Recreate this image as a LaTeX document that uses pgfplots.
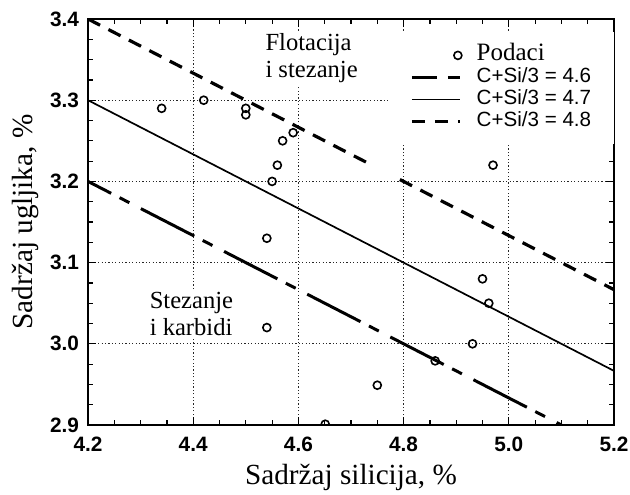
\documentclass[border=0pt]{standalone}
\usepackage{fontspec}
\setmainfont{Liberation Serif}
\setsansfont{Liberation Sans}
\usepackage{pgfplots}
\pgfplotsset{compat=1.18}
\pgfplotsset{
  podaci legend/.style={legend image code/.code={\path[draw=none] (0pt,0pt) -- (24pt,0pt); \draw[black, solid, line width=0.8pt] (23pt,0pt) circle[radius=2pt];}},
  longdash legend/.style={legend image code/.code={\path[draw=none] (0pt,0pt) -- (24pt,0pt); \draw[##1, dash pattern=on 12.5pt off 5.5pt on 6pt off 6pt, dash phase=0pt] (0pt,0pt) -- (24pt,0pt);}},
}
\begin{document}
\begin{tikzpicture}
\begin{axis}[
  scale only axis, width=263pt, height=203pt,
  xmin=4.2, xmax=5.2, ymin=2.9, ymax=3.4,
  xtick={4.2,4.4,4.6,4.8,5.0,5.2},
  xticklabels={4.2,4.4,4.6,4.8,5.0,5.2},
  ytick={2.9,3.0,3.1,3.2,3.3,3.4},
  yticklabels={2.9,3.0,3.1,3.2,3.3,3.4},
  minor x tick num=3, minor y tick num=3,
  tick align=inside,
  major tick length=4pt, minor tick length=2.5pt,
  every tick/.style={black, line width=0.6pt},
  axis line style={line width=1pt},
  grid=major,
  major grid style={black!85, line width=0.5pt, dash pattern=on 0.6pt off 1.1pt},
  ticklabel style={font=\sffamily\bfseries\fontsize{10.4}{12}\selectfont},
  xticklabel style={yshift=-2.5pt},
  yticklabel style={xshift=-1pt},
  xlabel={Sadržaj silicija, \%},
  ylabel={Sadržaj ugljika, \%},
  xlabel style={font=\fontsize{14.6}{16}\selectfont, at={(axis description cs:0.5,0)}, anchor=base, yshift=-29.5pt},
  ylabel style={font=\fontsize{14.6}{16}\selectfont, at={(axis description cs:-0.118,0.5)}, anchor=center},
  clip marker paths=true,
  legend style={font=\sffamily\fontsize{10.3}{12}\selectfont, draw=none, fill=white,
    at={(rel axis cs:0.572,1)}, anchor=north west, yshift=-6.5pt,
    inner xsep=10.5pt, inner ysep=6pt, column sep=6pt,
    nodes={inner sep=1pt, text height=7pt, text depth=2pt}},
  legend cell align=left,
  legend image code/.code={\path[draw=none] (0pt,0pt) -- (24pt,0pt); \draw[#1] (0pt,0pt) -- (24pt,0pt);},
]
% data points
\addplot[only marks, mark=o, mark size=2pt, mark options={line width=0.8pt, black}, podaci legend]
  coordinates {
  (4.34,3.29) (4.42,3.30) (4.50,3.29) (4.50,3.282) (4.57,3.25) (4.59,3.26)
  (4.56,3.22) (4.55,3.20) (4.97,3.22) (4.54,3.13) (4.54,3.02) (4.95,3.08)
  (4.962,3.05) (4.931,3.00) (4.86,2.979) (4.75,2.949) (4.651,2.901)
  };
\addlegendentry{\rmfamily\fontsize{12.5}{13}\selectfont Podaci}
% C+Si/3 = 4.6
\addplot[black, line width=1.5pt, dash pattern=on 30pt off 4.75pt on 5.5pt off 6.5pt, dash phase=17pt, longdash legend]
  coordinates {(4.2,3.2) (5.1,2.9)};
\addlegendentry{C+Si/3 = 4.6}
% C+Si/3 = 4.7
\addplot[black, line width=0.85pt] coordinates {(4.2,3.3) (5.2,2.96667)};
\addlegendentry{C+Si/3 = 4.7}
% C+Si/3 = 4.8
\addplot[black, line width=1.6pt, dash pattern=on 6.8pt off 4.7pt] coordinates {(4.2,3.4) (4.736,3.2213)};
\addlegendentry{C+Si/3 = 4.8}
\addplot[black, line width=1.6pt, dash pattern=on 6.8pt off 4.7pt, forget plot] coordinates {(4.793,3.2023) (5.2,3.06667)};
% text
\node[fill=white, inner sep=1.5pt, align=left, anchor=north west, font=\fontsize{12.3}{13.5}\selectfont]
  at (axis cs:4.531,3.386) {Flotacija\\i stezanje};
\node[fill=white, inner sep=1.5pt, align=left, anchor=north west, font=\fontsize{12.3}{13.5}\selectfont]
  at (axis cs:4.311,3.068) {Stezanje\\i karbidi};
\end{axis}
\pgfresetboundingbox
\path[use as bounding box] (-44pt,-34.5pt) rectangle (271pt,212.5pt);
\end{tikzpicture}
\end{document}
